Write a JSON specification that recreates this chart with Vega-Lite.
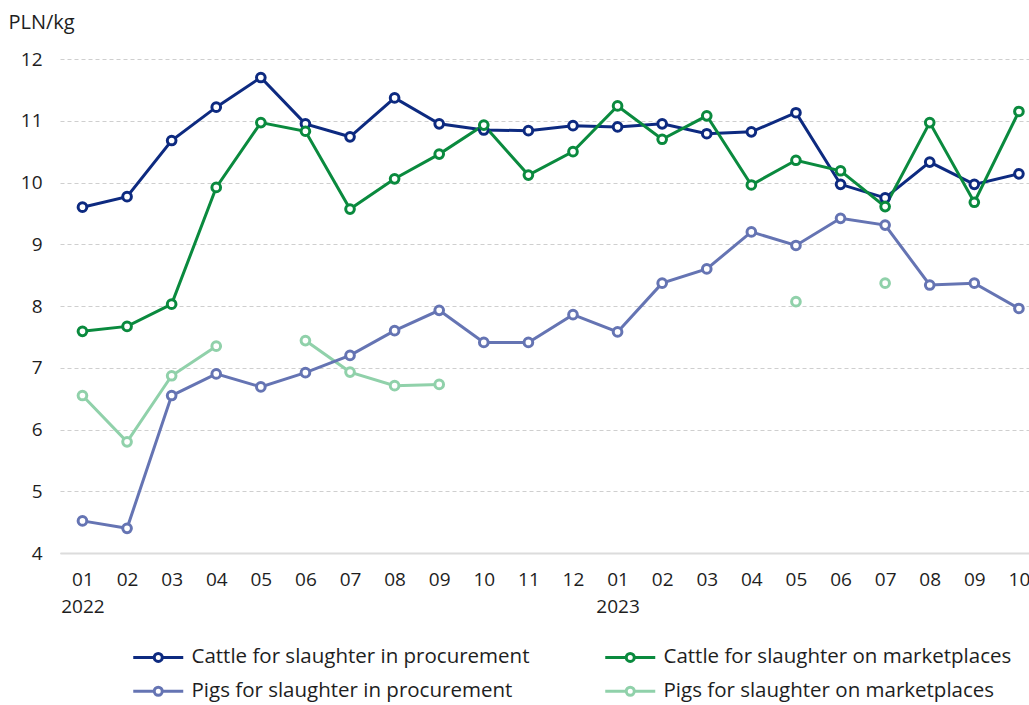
{
  "$schema": "https://vega.github.io/schema/vega-lite/v6.json",
  "width": 969,
  "height": 494,
  "autosize": {"type": "none"},
  "padding": {"left": 60, "top": 59, "right": 0, "bottom": 152},
  "background": "white",
  "config": {"view": {"stroke": null}, "font": "Open Sans"},
  "datasets": {
    "prices": [
      {"month": "2022-01", "series": "Pigs for slaughter on marketplaces", "value": 6.55},
      {"month": "2022-02", "series": "Pigs for slaughter on marketplaces", "value": 5.8},
      {"month": "2022-03", "series": "Pigs for slaughter on marketplaces", "value": 6.87},
      {"month": "2022-04", "series": "Pigs for slaughter on marketplaces", "value": 7.35},
      {"month": "2022-05", "series": "Pigs for slaughter on marketplaces", "value": null},
      {"month": "2022-06", "series": "Pigs for slaughter on marketplaces", "value": 7.44},
      {"month": "2022-07", "series": "Pigs for slaughter on marketplaces", "value": 6.93},
      {"month": "2022-08", "series": "Pigs for slaughter on marketplaces", "value": 6.71},
      {"month": "2022-09", "series": "Pigs for slaughter on marketplaces", "value": 6.73},
      {"month": "2022-10", "series": "Pigs for slaughter on marketplaces", "value": null},
      {"month": "2022-11", "series": "Pigs for slaughter on marketplaces", "value": null},
      {"month": "2022-12", "series": "Pigs for slaughter on marketplaces", "value": null},
      {"month": "2023-01", "series": "Pigs for slaughter on marketplaces", "value": null},
      {"month": "2023-02", "series": "Pigs for slaughter on marketplaces", "value": null},
      {"month": "2023-03", "series": "Pigs for slaughter on marketplaces", "value": null},
      {"month": "2023-04", "series": "Pigs for slaughter on marketplaces", "value": null},
      {"month": "2023-05", "series": "Pigs for slaughter on marketplaces", "value": 8.07},
      {"month": "2023-06", "series": "Pigs for slaughter on marketplaces", "value": null},
      {"month": "2023-07", "series": "Pigs for slaughter on marketplaces", "value": 8.37},
      {"month": "2023-08", "series": "Pigs for slaughter on marketplaces", "value": null},
      {"month": "2023-09", "series": "Pigs for slaughter on marketplaces", "value": null},
      {"month": "2023-10", "series": "Pigs for slaughter on marketplaces", "value": null},

      {"month": "2022-01", "series": "Pigs for slaughter in procurement", "value": 4.52},
      {"month": "2022-02", "series": "Pigs for slaughter in procurement", "value": 4.4},
      {"month": "2022-03", "series": "Pigs for slaughter in procurement", "value": 6.55},
      {"month": "2022-04", "series": "Pigs for slaughter in procurement", "value": 6.9},
      {"month": "2022-05", "series": "Pigs for slaughter in procurement", "value": 6.69},
      {"month": "2022-06", "series": "Pigs for slaughter in procurement", "value": 6.92},
      {"month": "2022-07", "series": "Pigs for slaughter in procurement", "value": 7.2},
      {"month": "2022-08", "series": "Pigs for slaughter in procurement", "value": 7.6},
      {"month": "2022-09", "series": "Pigs for slaughter in procurement", "value": 7.93},
      {"month": "2022-10", "series": "Pigs for slaughter in procurement", "value": 7.41},
      {"month": "2022-11", "series": "Pigs for slaughter in procurement", "value": 7.41},
      {"month": "2022-12", "series": "Pigs for slaughter in procurement", "value": 7.86},
      {"month": "2023-01", "series": "Pigs for slaughter in procurement", "value": 7.58},
      {"month": "2023-02", "series": "Pigs for slaughter in procurement", "value": 8.37},
      {"month": "2023-03", "series": "Pigs for slaughter in procurement", "value": 8.6},
      {"month": "2023-04", "series": "Pigs for slaughter in procurement", "value": 9.2},
      {"month": "2023-05", "series": "Pigs for slaughter in procurement", "value": 8.98},
      {"month": "2023-06", "series": "Pigs for slaughter in procurement", "value": 9.42},
      {"month": "2023-07", "series": "Pigs for slaughter in procurement", "value": 9.31},
      {"month": "2023-08", "series": "Pigs for slaughter in procurement", "value": 8.34},
      {"month": "2023-09", "series": "Pigs for slaughter in procurement", "value": 8.37},
      {"month": "2023-10", "series": "Pigs for slaughter in procurement", "value": 7.96},

      {"month": "2022-01", "series": "Cattle for slaughter in procurement", "value": 9.6},
      {"month": "2022-02", "series": "Cattle for slaughter in procurement", "value": 9.77},
      {"month": "2022-03", "series": "Cattle for slaughter in procurement", "value": 10.68},
      {"month": "2022-04", "series": "Cattle for slaughter in procurement", "value": 11.22},
      {"month": "2022-05", "series": "Cattle for slaughter in procurement", "value": 11.7},
      {"month": "2022-06", "series": "Cattle for slaughter in procurement", "value": 10.95},
      {"month": "2022-07", "series": "Cattle for slaughter in procurement", "value": 10.74},
      {"month": "2022-08", "series": "Cattle for slaughter in procurement", "value": 11.37},
      {"month": "2022-09", "series": "Cattle for slaughter in procurement", "value": 10.95},
      {"month": "2022-10", "series": "Cattle for slaughter in procurement", "value": 10.85},
      {"month": "2022-11", "series": "Cattle for slaughter in procurement", "value": 10.84},
      {"month": "2022-12", "series": "Cattle for slaughter in procurement", "value": 10.92},
      {"month": "2023-01", "series": "Cattle for slaughter in procurement", "value": 10.9},
      {"month": "2023-02", "series": "Cattle for slaughter in procurement", "value": 10.95},
      {"month": "2023-03", "series": "Cattle for slaughter in procurement", "value": 10.79},
      {"month": "2023-04", "series": "Cattle for slaughter in procurement", "value": 10.82},
      {"month": "2023-05", "series": "Cattle for slaughter in procurement", "value": 11.13},
      {"month": "2023-06", "series": "Cattle for slaughter in procurement", "value": 9.97},
      {"month": "2023-07", "series": "Cattle for slaughter in procurement", "value": 9.75},
      {"month": "2023-08", "series": "Cattle for slaughter in procurement", "value": 10.33},
      {"month": "2023-09", "series": "Cattle for slaughter in procurement", "value": 9.97},
      {"month": "2023-10", "series": "Cattle for slaughter in procurement", "value": 10.14},

      {"month": "2022-01", "series": "Cattle for slaughter on marketplaces", "value": 7.59},
      {"month": "2022-02", "series": "Cattle for slaughter on marketplaces", "value": 7.67},
      {"month": "2022-03", "series": "Cattle for slaughter on marketplaces", "value": 8.03},
      {"month": "2022-04", "series": "Cattle for slaughter on marketplaces", "value": 9.92},
      {"month": "2022-05", "series": "Cattle for slaughter on marketplaces", "value": 10.97},
      {"month": "2022-06", "series": "Cattle for slaughter on marketplaces", "value": 10.83},
      {"month": "2022-07", "series": "Cattle for slaughter on marketplaces", "value": 9.57},
      {"month": "2022-08", "series": "Cattle for slaughter on marketplaces", "value": 10.06},
      {"month": "2022-09", "series": "Cattle for slaughter on marketplaces", "value": 10.46},
      {"month": "2022-10", "series": "Cattle for slaughter on marketplaces", "value": 10.93},
      {"month": "2022-11", "series": "Cattle for slaughter on marketplaces", "value": 10.12},
      {"month": "2022-12", "series": "Cattle for slaughter on marketplaces", "value": 10.5},
      {"month": "2023-01", "series": "Cattle for slaughter on marketplaces", "value": 11.24},
      {"month": "2023-02", "series": "Cattle for slaughter on marketplaces", "value": 10.7},
      {"month": "2023-03", "series": "Cattle for slaughter on marketplaces", "value": 11.08},
      {"month": "2023-04", "series": "Cattle for slaughter on marketplaces", "value": 9.96},
      {"month": "2023-05", "series": "Cattle for slaughter on marketplaces", "value": 10.36},
      {"month": "2023-06", "series": "Cattle for slaughter on marketplaces", "value": 10.19},
      {"month": "2023-07", "series": "Cattle for slaughter on marketplaces", "value": 9.61},
      {"month": "2023-08", "series": "Cattle for slaughter on marketplaces", "value": 10.97},
      {"month": "2023-09", "series": "Cattle for slaughter on marketplaces", "value": 9.68},
      {"month": "2023-10", "series": "Cattle for slaughter on marketplaces", "value": 11.15}
    ]
  },
  "data": {"name": "prices"},
  "encoding": {
    "x": {
      "field": "month",
      "type": "ordinal",
      "scale": {"type": "point", "padding": 0.365, "align": 0.69},
      "axis": {
        "title": null,
        "labelAngle": 0,
        "ticks": false,
        "tickSize": 0,
        "grid": false,
        "domain": true,
        "domainColor": "#dcdcdc",
        "domainWidth": 2,
        "labelFontSize": 19,
        "labelColor": "#1e1e1e",
        "labelPadding": 17,
        "labelLineHeight": 27,
        "labelBaseline": "top",
        "labelExpr": "slice(datum.value,5)=='01' ? [slice(datum.value,5), slice(datum.value,0,4)] : slice(datum.value,5)"
      }
    },
    "y": {
      "field": "value",
      "type": "quantitative",
      "scale": {"domain": [4, 12], "nice": false, "zero": false},
      "axis": {
        "values": [4, 5, 6, 7, 8, 9, 10, 11, 12],
        "domain": false,
        "ticks": false,
        "tickSize": 0,
        "grid": true,
        "gridColor": "#cfcfcf",
        "gridDash": [4, 3],
        "gridWidth": 1,
        "labelFontSize": 19,
        "labelColor": "#1e1e1e",
        "labelPadding": 18,
        "title": "PLN/kg",
        "titleAngle": 0,
        "titleAlign": "left",
        "titleBaseline": "alphabetic",
        "titleX": -52,
        "titleY": -31,
        "titleFontSize": 20,
        "titleFontWeight": "normal",
        "titleColor": "#1e1e1e"
      }
    },
    "color": {
      "field": "series",
      "type": "nominal",
      "scale": {
        "domain": [
          "Cattle for slaughter in procurement",
          "Cattle for slaughter on marketplaces",
          "Pigs for slaughter in procurement",
          "Pigs for slaughter on marketplaces"
        ],
        "range": ["#0d2a80", "#0a8a3e", "#6574b3", "#90d1aa"]
      },
      "legend": {
        "title": null,
        "orient": "none",
        "direction": "horizontal",
        "legendX": 88,
        "legendY": 588,
        "columns": 2,
        "padding": 0,
        "symbolType": "M-5,0L-0.8,0M0.8,0L5,0M-0.8,0A0.8,0.8 0 1,1 0.8,0A0.8,0.8 0 1,1 -0.8,0",
        "symbolSize": 100,
        "symbolStrokeWidth": 3,
        "symbolOpacity": 1,
        "labelFontSize": 20.5,
        "labelColor": "#1e1e1e",
        "labelOffset": 23,
        "labelLimit": 600,
        "columnPadding": 69,
        "rowPadding": 13,
        "encode": {"symbols": {"update": {"fill": {"value": "white"}}}}
      }
    }
  },
  "layer": [
    {"mark": {"type": "line", "strokeWidth": 3, "invalid": "break-paths-show-domains"}},
    {"mark": {"type": "point", "filled": false, "fill": "white", "size": 75, "strokeWidth": 3, "opacity": 1}}
  ]
}
